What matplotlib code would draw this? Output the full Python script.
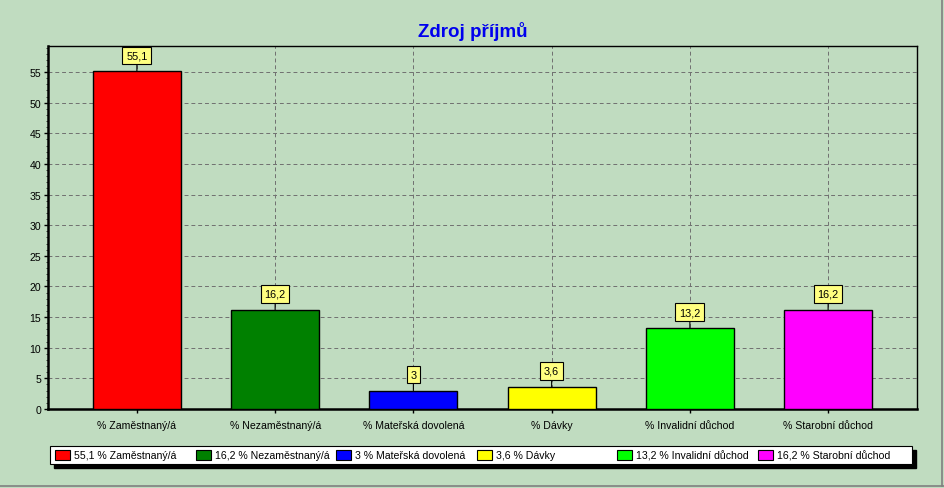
import matplotlib
matplotlib.use("Agg")
import matplotlib.pyplot as plt
from matplotlib.patches import Rectangle
from matplotlib.lines import Line2D

plt.rcParams['font.family'] = ['Liberation Sans', 'DejaVu Sans']

title = "Zdroj příjmů"
categories = ["Zaměstnaný/á", "Nezaměstnaný/á", "Mateřská dovolená", "Dávky",
              "Invalidní důchod", "Starobní důchod"]
values = [55.1, 16.2, 3.0, 3.6, 13.2, 16.2]
value_labels = ["55,1", "16,2", "3", "3,6", "13,2", "16,2"]
colors = ["#FF0000", "#008000", "#0000FF", "#FFFF00", "#00FF00", "#FF00FF"]
yticks = list(range(0, 60, 5))

BG = "#C0DCC0"
W, H = 945, 489
FS = 7.6
fig = plt.figure(figsize=(W / 100, H / 100), dpi=100, facecolor=BG)

def fx(px):
    return px / W

def fy(py):
    return 1 - py / H

L, R, T, B = 48, 917, 47, 410
ax = fig.add_axes([fx(L), fy(B), fx(R) - fx(L), fy(T) - fy(B)])
ax.set_facecolor(BG)
x = list(range(len(categories)))
ax.bar(x, values, width=0.636, color=colors, edgecolor="black", linewidth=1.0, zorder=3)
ax.set_xlim(-0.643, len(categories) - 1 + 0.643)
ax.set_ylim(0, 59.25)
ax.set_yticks(yticks)
ax.set_xticks(x)
ax.set_xticklabels(["% " + c for c in categories], fontsize=FS)
ax.tick_params(axis='y', labelsize=FS, length=3, width=1, pad=2)
ax.tick_params(axis='x', length=3, width=1, pad=5)
ax.set_yticks([i for i in range(0, 60)], minor=True)
ax.tick_params(axis='y', which='minor', length=1.5, width=0.5)
ax.set_axisbelow(True)
ax.grid(True, which='major', color="#707070", linestyle=(0, (4, 3)), linewidth=0.7)
for s in ['top', 'right']:
    ax.spines[s].set_linewidth(1.0)
for s in ['left', 'bottom']:
    ax.spines[s].set_linewidth(1.8)

for xi, v, lab in zip(x, values, value_labels):
    ax.annotate(lab, xy=(xi, v), xytext=(0, 11.5), textcoords='offset points',
                ha='center', va='center', fontsize=FS + 0.2, zorder=5,
                bbox=dict(boxstyle='square,pad=0.35', fc='#FFFF80', ec='black', lw=0.8),
                arrowprops=dict(arrowstyle='-', lw=0.8, color='black', shrinkA=0, shrinkB=0))

fig.text(0.5, fy(31.5), title, ha='center', va='center', fontsize=13.5,
         fontweight='bold', color='#0000EE')

# legend
lx0, lx1, ly0, ly1 = 50, 912, 447, 465
sh = 4
fig.patches.append(Rectangle((fx(lx0 + sh), fy(ly1 + sh)), fx(lx1 - lx0), fy(ly0) - fy(ly1),
                             transform=fig.transFigure, fc='black', ec='black', zorder=1))
fig.patches.append(Rectangle((fx(lx0), fy(ly1)), fx(lx1 - lx0), fy(ly0) - fy(ly1),
                             transform=fig.transFigure, fc='white', ec='black', lw=0.8, zorder=2))
step = 140.6
for i, (c, v, lab, col) in enumerate(zip(categories, values, value_labels, colors)):
    px = 55 + i * step
    fig.patches.append(Rectangle((fx(px), fy(461)), fx(15), fy(451) - fy(461),
                                 transform=fig.transFigure, fc=col, ec='black', lw=0.8, zorder=3))
    fig.text(fx(px + 19), fy(456.5), f"{lab} % {c}", ha='left', va='center', fontsize=FS, zorder=4)

# panel border
fig.add_artist(Line2D([fx(0), fx(W - 1)], [fy(H - 2), fy(H - 2)], transform=fig.transFigure,
                      color='#808080', lw=1.2))
fig.add_artist(Line2D([fx(W - 3), fx(W - 3)], [fy(0), fy(H - 2)], transform=fig.transFigure,
                      color='#808080', lw=1.2))

fig.savefig("out.png", dpi=100, facecolor=BG)
